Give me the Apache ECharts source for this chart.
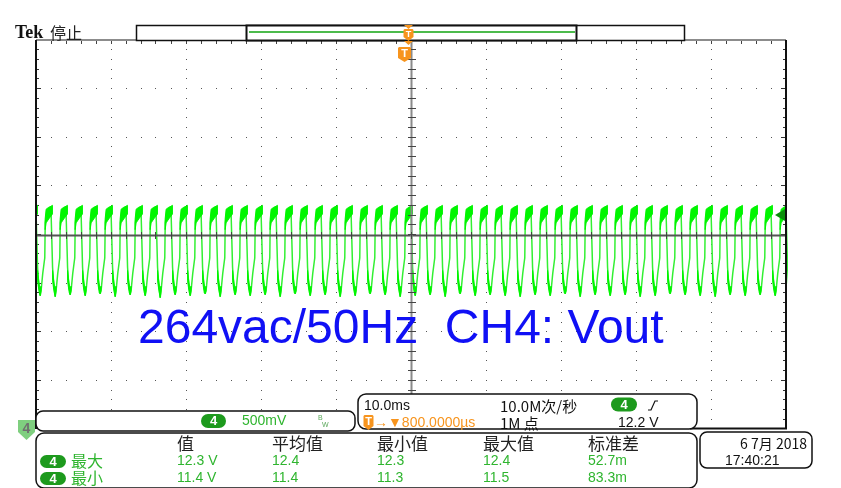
<!DOCTYPE html>
<html>
<head>
<meta charset="utf-8">
<script src="https://cdn.jsdelivr.net/npm/echarts/dist/echarts.min.js"></script>
<style>
html,body{margin:0;padding:0;background:#fff;}
#scope{width:841px;height:488px;}
</style>
</head>
<body>
<div id="scope"></div>
<script>
// ---- Channel 4 / timebase settings ----
const VOLTS_PER_DIV = 0.5;
const CH4_OFFSET = 12.0;        // volts at the screen centre line
const TRIGGER_LEVEL = 12.2;     // volts
const H_POSITION_MS = 0.8;      // screen centre, ms after the trigger
const MS_PER_DIV = 10;

// Rising edges of the ripple (ms after trigger)
const edgeTimes = [-50,-48,-46,-44,-42,-40,-38,-36,-34,-32,-30,-28,-26,-24,-22,-20,-18,-16,-14,-12,-10,-8,-6,-4,-2,
  0,2,4,6,8,10,12,14,16,18,20,22,24,26,28,30,32,34,36,38,40,42,44,46,48,50];

// Lowest point reached in each cycle (volts)
const troughV = [11.37,11.36,11.38,11.37,11.39,11.36,11.38,11.37,11.35,11.38,11.37,11.39,11.36,11.38,11.37,11.38,11.36,
  11.39,11.37,11.38,11.36,11.37,11.39,11.38,11.36,11.37,11.38,11.36,11.39,11.37,11.38,11.37,11.36,11.38,
  11.37,11.39,11.36,11.38,11.37,11.38,11.36,11.37,11.39,11.38,11.37,11.36,11.38,11.37,11.38,11.37,11.37];

// One ripple cycle, centre of the trace: ms after the rising edge, volts
const cycleT = [0.00,0.03,0.20,0.50,0.80,0.98,1.01,1.15,1.36,1.50,1.70,1.90,1.97];
const cycleV = [11.78,12.12,12.20,12.23,12.25,12.26,11.66,11.50,11.38,11.44,11.60,11.72,11.76];
const TROUGH_INDEX = 8;

// Noise band on the high plateau (upper / lower envelope)
const topBandT  = [0.02,0.15,0.50,0.80,0.99];
const topBandHi = [12.16,12.26,12.28,12.29,12.30];
const topBandLo = [12.05,12.12,12.16,12.19,12.21];
// Noise band after the falling edge
const lowBandT  = [1.01,1.12,1.24,1.36,1.48];
const lowBandHi = [11.63,11.55,11.48,11.44,11.47];
const lowBandLo = [11.53,11.46,11.40,11.37,11.42];

// Measurement table
const statHeaders = ['值','平均值','最小值','最大值','标准差'];
const statRowMax = ['12.3 V','12.4','12.3','12.4','52.7m'];
const statRowMin = ['11.4 V','11.4','11.3','11.5','83.3m'];
const statRowNames = ['最大','最小'];

const trace = [];
edgeTimes.forEach((t0, k) => {
  cycleT.forEach((dt, i) => {
    trace.push([t0 + dt, i === TROUGH_INDEX ? troughV[k] : cycleV[i]]);
  });
});
const cycles = edgeTimes.map((t0, k) => [t0, troughV[k]]);

const xMin = H_POSITION_MS - 5 * MS_PER_DIV, xMax = H_POSITION_MS + 5 * MS_PER_DIV;
const yMin = CH4_OFFSET - 4 * VOLTS_PER_DIV, yMax = CH4_OFFSET + 4 * VOLTS_PER_DIV;

function dot(x, y, w, h, c) {
  return {type: 'rect', shape: {x: Math.round(x), y: Math.round(y), width: w, height: h}, style: {fill: c}};
}

// Dotted graticule and edge ticks
function renderGraticule(params, api) {
  const ch = [];
  const minorT = MS_PER_DIV / 5, minorV = VOLTS_PER_DIV / 5;
  for (let i = -4; i <= 4; i++) {
    if (i === 0) continue;
    const t = H_POSITION_MS + i * MS_PER_DIV;
    for (let j = -19; j <= 19; j++) {
      const p = api.coord([t, CH4_OFFSET + j * minorV]);
      ch.push(dot(p[0] - 0.5, p[1] - 0.5, 1, 1, '#555'));
    }
  }
  for (let j = -3; j <= 3; j++) {
    if (j === 0) continue;
    const v = CH4_OFFSET + j * VOLTS_PER_DIV;
    for (let i = -24; i <= 24; i++) {
      const p = api.coord([H_POSITION_MS + i * minorT, v]);
      ch.push(dot(p[0] - 0.5, p[1] - 0.5, 1, 1, '#555'));
    }
  }
  for (let j = -19; j <= 19; j++) {
    const l = api.coord([xMin, CH4_OFFSET + j * minorV]);
    const r = api.coord([xMax, CH4_OFFSET + j * minorV]);
    const len = (j % 5 === 0) ? 4 : 2;
    ch.push(dot(l[0] + 1, l[1] - 0.5, len, 1, '#333'));
    ch.push(dot(r[0] - 1 - len, r[1] - 0.5, len, 1, '#333'));
  }
  for (let i = -24; i <= 24; i++) {
    const p = api.coord([H_POSITION_MS + i * minorT, yMax]);
    ch.push(dot(p[0] - 0.5, p[1] + 1, 1, 3, '#444'));
  }
  return {type: 'group', children: ch};
}

// Noise bands of one ripple cycle
function renderBands(params, api) {
  const t0 = api.value(0), low = api.value(1);
  const top = [], bot = [];
  topBandT.forEach((dt, i) => top.push(api.coord([t0 + dt, topBandHi[i]])));
  for (let i = topBandT.length - 1; i >= 0; i--) top.push(api.coord([t0 + topBandT[i], topBandLo[i]]));
  lowBandT.forEach((dt, i) => bot.push(api.coord([t0 + dt, lowBandHi[i]])));
  for (let i = lowBandT.length - 1; i >= 0; i--) {
    bot.push(api.coord([t0 + lowBandT[i], i === 3 ? low : lowBandLo[i]]));
  }
  const style = {fill: '#00f500', stroke: '#00f500', lineWidth: 1};
  return {type: 'group', children: [
    {type: 'polygon', shape: {points: top}, style: style},
    {type: 'polygon', shape: {points: bot}, style: style}
  ]};
}

// Centre crosshair with minor ticks
function renderCrosshair(params, api) {
  const ch = [];
  const minorT = MS_PER_DIV / 5, minorV = VOLTS_PER_DIV / 5;
  const a = api.coord([xMin, CH4_OFFSET]), b = api.coord([xMax, CH4_OFFSET]);
  ch.push({type: 'line', shape: {x1: a[0], y1: Math.round(a[1]) + 0.5, x2: b[0], y2: Math.round(b[1]) + 0.5},
    style: {stroke: '#555', lineWidth: 2}});
  const c = api.coord([H_POSITION_MS, yMin]), d = api.coord([H_POSITION_MS, yMax]);
  ch.push({type: 'line', shape: {x1: Math.round(c[0]) + 0.5, y1: c[1], x2: Math.round(d[0]) + 0.5, y2: d[1]},
    style: {stroke: '#8a8a8a', lineWidth: 2}});
  for (let i = -24; i <= 24; i++) {
    const p = api.coord([H_POSITION_MS + i * minorT, CH4_OFFSET]);
    ch.push(dot(p[0] - 0.5, p[1] - 3, 1, 7, '#444'));
  }
  for (let j = -19; j <= 19; j++) {
    const p = api.coord([H_POSITION_MS, CH4_OFFSET + j * minorV]);
    ch.push(dot(p[0] - 3, p[1] - 0.5, 8, 1, '#444'));
  }
  return {type: 'group', children: ch};
}

const chart = echarts.init(document.getElementById('scope'), null, {renderer: 'canvas'});

const GREEN_TXT = '#2fb52f';
const PILL = '#1d9a1d';
const ORANGE = '#f7941d';
const LAT = '"Liberation Sans", Arial, sans-serif';
const CJK = '"Noto Sans CJK SC", sans-serif';

function txt(x, y, s, font, fill, align, z) {
  return {type: 'text', z: z || 50, style: {x: x, y: y, text: s, font: font, fill: fill || '#111',
    textAlign: align || 'left', textVerticalAlign: 'middle'}};
}
function pill(x, y, w, h) {
  return [
    {type: 'rect', z: 50, shape: {x: x, y: y, width: w, height: h, r: h / 2}, style: {fill: PILL}},
    txt(x + w / 2, y + h / 2 + 0.5, '4', 'bold 13px ' + LAT, '#fff', 'center', 51)
  ];
}
function panel(x, y, w, h, r) {
  return {type: 'rect', z: 40, shape: {x: x, y: y, width: w, height: h, r: r},
    style: {fill: '#fff', stroke: '#111', lineWidth: 1.5}};
}
function tBadge(cx, top, w, h) {
  return [
    {type: 'polygon', z: 60, shape: {points: [[cx - w / 2, top + 1], [cx - w / 2 + 1, top], [cx + w / 2 - 1, top], [cx + w / 2, top + 1],
      [cx + w / 2, top + h - 4], [cx, top + h], [cx - w / 2, top + h - 4]]}, style: {fill: ORANGE}},
    txt(cx, top + h / 2 - 0.5, 'T', 'bold ' + Math.round(h * 0.75) + 'px ' + LAT, '#fff', 'center', 61)
  ];
}

chart.setOption({
  animation: false,
  backgroundColor: '#fff',
  grid: {left: 36, top: 40, width: 750, height: 389, show: false},
  xAxis: {type: 'value', min: xMin, max: xMax, show: false},
  yAxis: {type: 'value', min: yMin, max: yMax, show: false},
  series: [
    {type: 'custom', z: 1, silent: true, renderItem: renderGraticule, data: [[H_POSITION_MS, CH4_OFFSET]], clip: false},
    {type: 'line', z: 5, data: trace, showSymbol: false, symbol: 'none', sampling: null,
      lineStyle: {color: '#33f033', width: 1.5}, silent: true},
    {type: 'custom', z: 6, silent: true, renderItem: renderBands, data: cycles, clip: true},
    {type: 'custom', z: 8, silent: true, renderItem: renderCrosshair, data: [[H_POSITION_MS, CH4_OFFSET]], clip: false}
  ]
});

const trigX = chart.convertToPixel({xAxisIndex: 0}, 0);
const levelY = chart.convertToPixel({yAxisIndex: 0}, TRIGGER_LEVEL);

const g = [];
// graticule border
g.push({type: 'line', z: 30, shape: {x1: 36, y1: 40, x2: 786, y2: 40}, style: {stroke: '#8c8c8c', lineWidth: 2}});
g.push({type: 'line', z: 30, shape: {x1: 36, y1: 40, x2: 36, y2: 429}, style: {stroke: '#111', lineWidth: 2}});
g.push({type: 'line', z: 30, shape: {x1: 786, y1: 40, x2: 786, y2: 429}, style: {stroke: '#111', lineWidth: 2}});
g.push({type: 'line', z: 30, shape: {x1: 690, y1: 428.5, x2: 787, y2: 428.5}, style: {stroke: '#111', lineWidth: 2}});

// header
g.push(txt(15, 33, 'Tek', 'bold 18px "Liberation Serif", serif', '#111'));
g.push(txt(50, 33, '停止', '16px ' + CJK, '#222'));

// record bar
g.push({type: 'rect', z: 30, shape: {x: 136.5, y: 25.5, width: 548, height: 15}, style: {fill: '#fff', stroke: '#111', lineWidth: 1.5}});
g.push({type: 'rect', z: 31, shape: {x: 246.5, y: 25.5, width: 330, height: 15}, style: {fill: '#fff', stroke: '#111', lineWidth: 2}});
g.push({type: 'line', z: 32, shape: {x1: 249, y1: 32, x2: 575, y2: 32}, style: {stroke: '#4cbb4c', lineWidth: 2}});
g.push({type: 'polygon', z: 60, shape: {points: [[trigX - 1, 25], [trigX + 8, 25], [trigX + 3.5, 29]]}, style: {fill: ORANGE}});
g.push(...tBadge(trigX + 3.5, 29, 10, 12));
g.push({type: 'polygon', z: 60, shape: {points: [[trigX - 1, 41], [trigX + 8, 41], [trigX + 3.5, 45]]}, style: {fill: ORANGE}});
// trigger position marker
g.push(...tBadge(trigX - 0.5, 47, 13, 15));

// trigger level arrow on the right edge
g.push({type: 'polygon', z: 60, shape: {points: [[775, levelY], [785, levelY - 6], [785, levelY + 6]]}, style: {fill: '#0b8f0b'}});

// channel 4 ground marker (off-screen below)
g.push({type: 'polygon', z: 60, shape: {points: [[18, 420], [35, 420], [35, 432], [26.5, 440], [18, 432]]}, style: {fill: '#7fcf7f'}});
g.push(txt(26.5, 429, '4', 'bold 14px ' + LAT, '#6f6f6f', 'center', 61));

// caption
g.push(txt(138, 330, '264vac/50Hz  CH4: Vout', '48px ' + LAT, '#1010f5'));

// channel scale panel
g.push(panel(36, 411, 319, 20, 7));
g.push(...pill(201, 414, 25, 14));
g.push(txt(242, 421, '500mV', '14px ' + LAT, GREEN_TXT));
g.push(txt(318, 418.5, 'B', '7px ' + LAT, '#5aa85a'));
g.push(txt(322, 425, 'W', '7px ' + LAT, '#5aa85a'));

// timebase panel
g.push(panel(358, 394, 339, 35, 8));
g.push(txt(364, 406, '10.0ms', '14px ' + LAT, '#111'));
g.push(txt(500, 406, '10.0M次/秒', '15px ' + CJK, '#111'));
g.push(...pill(611, 397.5, 26, 14));
g.push({type: 'polyline', z: 55, shape: {points: [[648, 410], [651, 410], [655, 401], [658, 401]]}, style: {stroke: '#111', lineWidth: 1.2, fill: null}});
g.push(...tBadge(368.5, 415, 10, 15));
g.push(txt(374, 423, '→▼800.0000µs', '14px ' + LAT, ORANGE));
g.push(txt(500, 423, '1M 点', '15px ' + CJK, '#111'));
g.push(txt(618, 423, '12.2 V', '14px ' + LAT, '#111'));

// measurement panel
g.push(panel(36, 433, 661, 55, 8));
const colX = [177, 272, 377, 483, 588];
statHeaders.forEach((h, i) => g.push(txt(colX[i], 444, h, '17px ' + CJK, '#222')));
[statRowMax, statRowMin].forEach((row, r) => {
  const y = r === 0 ? 461.5 : 478.5;
  g.push(...pill(40, y - 6.5, 26, 13));
  g.push(txt(71, y - 1, statRowNames[r], '16px ' + CJK, GREEN_TXT));
  row.forEach((v, i) => g.push(txt(colX[i], y, v, '14px ' + LAT, GREEN_TXT)));
});

// date panel
g.push(panel(700, 432, 112, 36, 7));
g.push(txt(807, 444, '6 7月 2018', '14px ' + CJK, '#111', 'right'));
g.push(txt(725, 461, '17:40:21', '14px ' + LAT, '#111'));

chart.setOption({graphic: {elements: g}});
</script>
</body>
</html>
